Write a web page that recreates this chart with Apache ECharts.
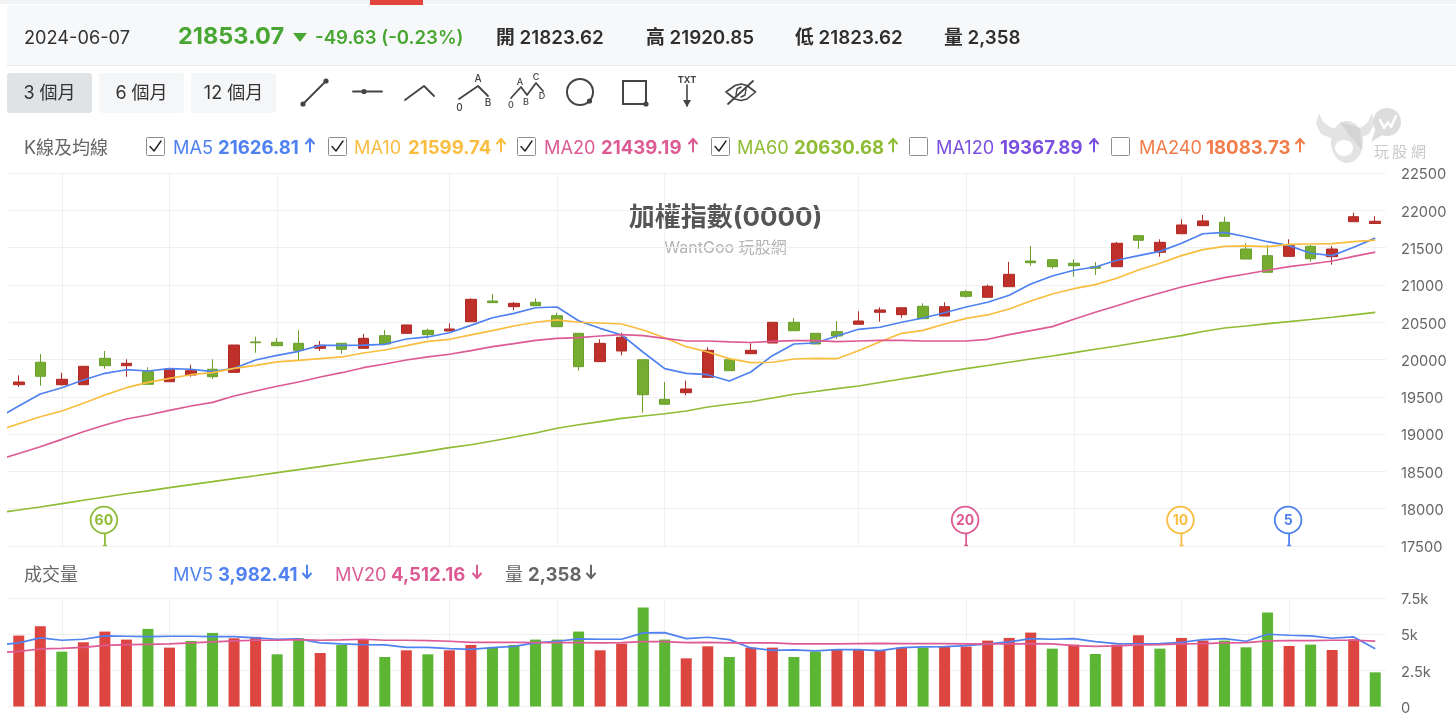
<!DOCTYPE html>
<html><head><meta charset="utf-8">
<style>html,body{margin:0;padding:0;background:#fff}#c{width:1456px;height:716px}</style>
<script src="https://cdn.jsdelivr.net/npm/echarts@6/dist/echarts.min.js"></script>
</head><body><div id="c"></div>
<script>
const categories=['2024-03-07','2024-03-08','2024-03-11','2024-03-12','2024-03-13','2024-03-14','2024-03-15','2024-03-18','2024-03-19','2024-03-20','2024-03-21','2024-03-22','2024-03-25','2024-03-26','2024-03-27','2024-03-28','2024-03-29','2024-04-01','2024-04-02','2024-04-03','2024-04-08','2024-04-09','2024-04-10','2024-04-11','2024-04-12','2024-04-15','2024-04-16','2024-04-17','2024-04-18','2024-04-19','2024-04-22','2024-04-23','2024-04-24','2024-04-25','2024-04-26','2024-04-29','2024-04-30','2024-05-02','2024-05-03','2024-05-06','2024-05-07','2024-05-08','2024-05-09','2024-05-10','2024-05-13','2024-05-14','2024-05-15','2024-05-16','2024-05-17','2024-05-20','2024-05-21','2024-05-22','2024-05-23','2024-05-24','2024-05-27','2024-05-28','2024-05-29','2024-05-30','2024-05-31','2024-06-03','2024-06-04','2024-06-05','2024-06-06','2024-06-07'];
const gridDates=['2024-03-11','2024-03-18','2024-03-25','2024-04-08','2024-04-15','2024-04-22','2024-05-06','2024-05-13','2024-05-20','2024-05-27','2024-06-03'];
// open, close, low, high
const ohlc=[[19662,19698,19635,19788],[19963,19775,19649,20074],[19662,19735,19649,19823],[19662,19909,19662,19909],[20016,19917,19877,20114],[19917,19949,19769,20003],[19837,19668,19668,19896],[19702,19873,19702,19873],[19792,19850,19769,19930],[19869,19769,19739,20003],[19828,20194,19828,20194],[20235,20225,20091,20306],[20231,20185,20185,20288],[20217,20123,19993,20391],[20150,20190,20114,20248],[20217,20137,20078,20217],[20150,20284,20150,20342],[20319,20208,20208,20395],[20351,20463,20351,20463],[20391,20333,20279,20413],[20382,20409,20382,20485],[20507,20807,20507,20820],[20784,20762,20762,20878],[20708,20753,20664,20771],[20767,20721,20721,20820],[20587,20440,20440,20627],[20351,19904,19850,20351],[19971,20217,19971,20271],[20114,20298,20056,20359],[19997,19528,19287,19997],[19466,19400,19400,19698],[19555,19605,19520,19716],[19761,20123,19761,20164],[19997,19850,19850,19997],[20078,20123,20078,20217],[20221,20499,20221,20499],[20499,20386,20386,20556],[20351,20208,20208,20351],[20373,20315,20279,20516],[20472,20516,20472,20646],[20633,20664,20507,20700],[20601,20694,20560,20694],[20713,20547,20547,20753],[20583,20708,20583,20767],[20909,20847,20828,20932],[20834,20981,20834,21003],[20976,21142,20976,21307],[21320,21298,21257,21522],[21338,21244,21217,21338],[21290,21257,21110,21343],[21244,21223,21133,21307],[21244,21558,21244,21575],[21660,21598,21485,21660],[21437,21571,21378,21611],[21686,21803,21686,21879],[21794,21857,21794,21937],[21839,21651,21651,21914],[21481,21347,21347,21558],[21392,21169,21169,21535],[21383,21526,21383,21611],[21517,21351,21311,21535],[21378,21481,21271,21522],[21847,21914,21847,21968],[21823.62,21853.07,21823.62,21920.85]];
// moving averages: the first value belongs to the session before the window
const ma5=[19212,19377,19538,19622,19725,19815,19863,19846,19877,19869,19837,19882,19993,20056,20110,20190,20190,20194,20204,20275,20302,20359,20458,20560,20619,20694,20704,20520,20418,20329,20097,19877,19815,19796,19712,19832,20051,20208,20221,20315,20405,20432,20499,20556,20627,20704,20767,20861,21012,21119,21196,21240,21330,21392,21450,21558,21686,21705,21646,21579,21526,21424,21392,21504,21626.81];
const ma10=[19042,19139,19233,19310,19413,19524,19622,19694,19748,19796,19823,19882,19922,19967,19989,20011,20034,20087,20127,20185,20244,20271,20329,20386,20449,20499,20530,20499,20489,20476,20395,20292,20172,20101,20011,19957,19963,20007,20016,20011,20118,20239,20351,20391,20476,20552,20597,20677,20784,20878,20949,21003,21089,21200,21290,21392,21472,21517,21522,21512,21544,21548,21552,21579,21599.74];
const ma20=[18653,18740,18831,18930,19032,19122,19202,19256,19319,19377,19426,19511,19578,19641,19698,19765,19823,19890,19940,19993,20034,20070,20118,20172,20212,20257,20284,20292,20315,20333,20319,20284,20248,20248,20235,20228,20244,20252,20252,20239,20248,20257,20257,20248,20248,20248,20271,20333,20386,20440,20539,20633,20721,20811,20891,20972,21035,21097,21146,21196,21244,21280,21320,21383,21439.19];
const ma60=[17942,17983,18023,18067,18113,18157,18200,18240,18282,18323,18363,18404,18442,18483,18524,18564,18606,18647,18686,18728,18771,18818,18857,18908,18961,19015,19078,19125,19168,19212,19243,19273,19310,19363,19400,19434,19484,19534,19571,19609,19645,19692,19739,19784,19832,19877,19920,19963,20007,20047,20091,20137,20181,20228,20275,20319,20375,20422,20449,20480,20507,20536,20566,20599,20630.68];
const volumes=[4897,5544,3788,4435,5174,4620,5359,4066,4528,5082,4712,4805,3604,4712,3696,4250,4620,3419,3881,3604,3881,4250,4066,4250,4620,4620,5174,3881,4343,6838,4620,3326,4158,3419,4066,4066,3419,3788,3973,3973,3881,4066,4066,4158,4135,4551,4736,5105,3996,4274,3627,4274,4920,3996,4736,4551,4551,4089,6491,4181,4274,3904,4643,2358];
const volumeUp=[1,1,0,1,1,1,0,1,0,0,1,1,0,0,1,0,1,0,1,0,1,1,0,0,0,0,0,1,1,0,0,1,1,0,1,1,0,0,1,1,1,1,0,1,1,1,1,1,0,1,0,1,1,0,1,1,0,0,0,1,0,1,1,0];
const mv5=[4227,4389,4735,4574,4643,4874,4851,4828,4851,4851,4828,4828,4735,4643,4666,4389,4320,4273,4250,4089,4089,3996,3950,4066,4158,4389,4505,4666,4643,4643,5082,5105,4689,4782,4620,4043,3881,3904,3835,3927,3927,3858,4066,4112,4135,4204,4320,4458,4689,4643,4689,4481,4343,4320,4343,4435,4620,4689,4505,4990,4920,4874,4712,4805,3982.41];
const mv20=[3696,3812,3973,4019,4089,4227,4273,4297,4320,4389,4458,4528,4574,4574,4620,4574,4597,4643,4574,4574,4551,4505,4435,4435,4435,4412,4412,4412,4389,4412,4481,4481,4412,4435,4389,4389,4389,4320,4320,4320,4343,4366,4343,4343,4343,4320,4320,4320,4343,4320,4204,4158,4181,4250,4273,4320,4343,4389,4412,4528,4551,4551,4574,4574,4512.16];
const crossBars=[4,44,54,59];
const crossLabels=['60','20','10','5'];
const priceTicks={min:17500,max:22500,step:500};
const volumeTicks={min:0,max:7500,step:2500};
const maLegend=[['MA5','21626.81','#4f81f0',146,173,218,310,true],['MA10','21599.74','#f9bd3f',328,354,408,501,true],['MA20','21439.19','#dd5b94',517,544,601,693,true],['MA60','20630.68','#8fbc35',711,737,794,893,true],['MA120','19367.89','#7a4fe0',909,936,1000,1094,false],['MA240','18083.73','#f27c4a',1111,1139,1206,1300,false]];

const FONT='Inter,"Noto Sans CJK TC",sans-serif';
const BLUE='#4f81f0',YEL='#f9bd3f',PINK='#dd5b94',GRN='#8fbc35';
const crossColors={'5':BLUE,'10':YEL,'20':PINK,'60':GRN};
const G=[];
const txt=(x,y,text,size,fill,weight,align)=>G.push({type:'text',silent:true,x,y,style:{text,x:0,y:0,fontSize:size,fill,fontWeight:weight||400,fontFamily:FONT,align:align||'left',verticalAlign:'middle'}});
const rect=(x,y,w,h,fill,r,stroke,lw)=>G.push({type:'rect',silent:true,shape:{x,y,width:w,height:h,r:r||0},style:{fill,stroke:stroke||null,lineWidth:lw||0}});
const poly=(pts,stroke,lw)=>G.push({type:'polyline',silent:true,shape:{points:pts},style:{stroke,lineWidth:lw||2,fill:null,lineJoin:'round',lineCap:'round'}});
const dot=(x,y,r,fill)=>G.push({type:'circle',silent:true,shape:{cx:x,cy:y,r},style:{fill}});
const arrow=(x,y,up,c)=>{const d=up?1:-1;poly([[x,y+6.5*d],[x,y-6*d]],c,2);poly([[x-4,y-1.5*d],[x,y-6*d],[x+4,y-1.5*d]],c,2);};

// top strip and header band
rect(0,0,1456,4,'#f1f2f4');rect(370,0,53,5,'#e2453c');
rect(7,5,1449,60,'#f7f8fa');rect(7,65,1449,1,'#ebebeb');
txt(24,38.5,'2024-06-07',18.2,'#333');
txt(178,37,'21853.07',23.5,'#48a632',700);
G.push({type:'polygon',silent:true,shape:{points:[[293,33],[307,33],[300,42]]},style:{fill:'#48a632'}});
txt(315,38.5,'-49.63 (-0.23%)',18.6,'#48a632',600);
[['開 21823.62',496],['高 21920.85',646],['低 21823.62',795],['量 2,358',944]].forEach(a=>txt(a[1],38.5,a[0],18.8,'#2e2e2e',600));
// range buttons
[[7,'3 個月','#dfe3e6'],[99,'6 個月','#f5f6f8'],[191,'12 個月','#f5f6f8']].forEach(b=>{rect(b[0],73,85,40,b[2],3);txt(b[0]+42.5,93.5,b[1],18,'#333',400,'center');});
// drawing tools
const IC='#444';
poly([[303,104],[326,81]],IC,1.8);dot(303,104,2.6,IC);dot(326,81,2.6,IC);
poly([[353,91.5],[382,91.5]],IC,1.8);dot(364,91.5,2.6,IC);
poly([[405,100],[424,86],[434,96]],IC,1.8);
poly([[459,99],[478,86],[488,96]],IC,1.8);
[[459.5,108,'0'],[478,79,'A'],[488,103,'B']].forEach(a=>txt(a[0],a[1],a[2],10,IC,500,'center'));
poly([[511,98],[521,87],[527,95],[536,83],[543,91]],IC,1.8);
[[511,105,'0'],[520,82,'A'],[526,102,'B'],[536,77,'C'],[542,96,'D']].forEach(a=>txt(a[0],a[1],a[2],9,IC,500,'center'));
G.push({type:'circle',silent:true,shape:{cx:580,cy:92,r:13},style:{fill:null,stroke:IC,lineWidth:2}});dot(589.5,101,2.6,IC);
rect(623,81,23,23,null,0,IC,2);dot(646,104,2.6,IC);
txt(687,80,'TXT',9,IC,700,'center');
poly([[687,85],[687,106]],IC,1.6);
G.push({type:'polygon',silent:true,shape:{points:[[683,100],[691,100],[687,107]]},style:{fill:IC}});
poly([[726,92],[735,85.5],[741,84],[747,85.5],[755.5,92],[747,99],[741,100.5],[735,99],[726,92]],IC,1.6);
poly([[736,95],[737,89],[741,87]],IC,1.4);
poly([[746,89],[745,95],[741,97]],IC,1.4);
poly([[728,104],[753,81]],IC,1.8);
// K-line legend
txt(24,148.5,'K線及均線',18,'#666');
maLegend.forEach(m=>{
  rect(m[3]+.5,137.5,18,18,'#fff',1,'#8f8f8f',1);
  if(m[7])poly([[m[3]+4,146.5],[m[3]+8,151],[m[3]+15,141]],'#222',1.4);
  txt(m[4],148.5,m[0],18.2,m[2]);
  txt(m[5],148.5,m[1],18.6,m[2],700);
  arrow(m[6],145,true,m[2]);
});
// watermark
const WM='#e3e3e3';
G.push({type:'polygon',silent:true,shape:{points:[[1319,113],[1316,124],[1321,134],[1333,139],[1343,131],[1330,127],[1323,122]]},style:{fill:WM}});
G.push({type:'polygon',silent:true,shape:{points:[[1372,113],[1374,124],[1369,134],[1358,139],[1347,131],[1362,127],[1368,122]]},style:{fill:WM}});
G.push({type:'ellipse',silent:true,shape:{cx:1347,cy:142,rx:16,ry:21},style:{fill:WM}});
G.push({type:'polygon',silent:true,shape:{points:[[1340,122],[1360,128],[1362,150],[1350,136]]},style:{fill:'#d4d4d4'}});
G.push({type:'ellipse',silent:true,shape:{cx:1344,cy:148,rx:9,ry:8},style:{fill:'#fff'}});
G.push({type:'circle',silent:true,shape:{cx:1387,cy:122,r:14},style:{fill:'#dcdcdc'}});
G.push({type:'polygon',silent:true,shape:{points:[[1376,128],[1371,142],[1384,134]]},style:{fill:'#dcdcdc'}});
poly([[1380,120],[1384,128],[1388,122],[1391,127],[1396,116]],'#fff',2.4);
[[1374,'玩'],[1392,'股'],[1411,'網']].forEach(a=>txt(a[0],152.5,a[1],15,'#c9c9c9'));
// titles
txt(725.5,218,'加權指數(0000)',26,'#555',700,'center');
txt(725.5,248,'WantGoo 玩股網',16,'#b3b3b3',400,'center');
// volume legend
txt(24,575.5,'成交量',18,'#666');
txt(173,575.5,'MV5',18.2,BLUE);txt(218,575.5,'3,982.41',18.6,BLUE,700);arrow(307,572,false,BLUE);
txt(335,575.5,'MV20',18.2,PINK);txt(391,575.5,'4,512.16',18.6,PINK,700);arrow(477,572,false,PINK);
txt(505,575.5,'量',18,'#666');txt(528,575.5,'2,358',18.6,'#666',700);arrow(591,572,false,'#666');

const RED='#c0302a',KGRN='#76ad31',VR='#dd4540',VG='#5cb634',GRID='#f0f0f0';
const withIndex=a=>a.map((v,k)=>[k-1,v]);
const line=(name,data,color,x,y)=>({name,type:'line',data:withIndex(data),xAxisIndex:x,yAxisIndex:y,showSymbol:false,silent:true,lineStyle:{color,width:1.7},itemStyle:{color},z:5,animation:false});
const catAxis=i=>({type:'category',gridIndex:i,data:categories,axisLine:{show:false},axisTick:{show:false},axisLabel:{show:false},
  splitLine:{show:true,alignWithLabel:true,interval:(idx,val)=>gridDates.includes(val),lineStyle:{color:GRID,width:1.2}}});
const valX=i=>({type:'value',gridIndex:i,min:-0.5,max:63.5,show:false,splitLine:{show:false}});
const yAx=(i,t,fmt)=>({type:'value',gridIndex:i,position:'right',min:t.min,max:t.max,interval:t.step,scale:true,axisLine:{show:false},axisTick:{show:false},
  axisLabel:{color:'#666',fontSize:14.6,fontFamily:FONT,margin:15,formatter:v=>'{t|'+fmt(v)+'}',rich:{t:{color:'#666',fontSize:14.6,fontFamily:FONT,padding:[4,0,0,0]}}},splitLine:{show:true,lineStyle:{color:GRID,width:1}}});

const chart=echarts.init(document.getElementById('c'),null,{renderer:'canvas'});
chart.setOption({
  animation:false,backgroundColor:'#fff',
  graphic:{elements:G},
  grid:[{left:8,top:173,width:1378,height:373},{left:8,top:597.9,width:1378,height:108.6}],
  xAxis:[catAxis(0),valX(0),catAxis(1),valX(1)],
  yAxis:[yAx(0,priceTicks,v=>String(v)),yAx(1,volumeTicks,v=>v===0?'0':(v/1000)+'k')],
  series:[
    {name:'K',type:'candlestick',data:ohlc,xAxisIndex:0,yAxisIndex:0,barWidth:11,silent:true,z:3,
     itemStyle:{color:RED,color0:KGRN,borderColor:'#ae2a25',borderColor0:'#699e2b',borderWidth:1}},
    line('MA5',ma5,BLUE,1,0),line('MA10',ma10,YEL,1,0),line('MA20',ma20,PINK,1,0),line('MA60',ma60,GRN,1,0),
    {name:'量',type:'bar',data:volumes.map((v,k)=>({value:v,itemStyle:{color:volumeUp[k]?VR:VG}})),xAxisIndex:2,yAxisIndex:1,barWidth:11,silent:true,z:3},
    line('MV5',mv5,BLUE,3,1),line('MV20',mv20,PINK,3,1),
    {name:'cross',type:'custom',xAxisIndex:0,yAxisIndex:0,silent:true,clip:false,z:6,
     data:crossBars.map((b,k)=>[b,priceTicks.min,crossLabels[k]]),
     renderItem:(p,api)=>{
       const c=api.coord([api.value(0),api.value(1)]);const lab=crossLabels[p.dataIndex];const col=crossColors[lab];
       const cy=c[1]-26;
       return {type:'group',children:[
         {type:'line',shape:{x1:c[0],y1:cy+13,x2:c[0],y2:c[1]-1},style:{stroke:col,lineWidth:1.8}},
         {type:'line',shape:{x1:c[0]-2,y1:c[1]-.5,x2:c[0]+2,y2:c[1]-.5},style:{stroke:col,lineWidth:1.4}},
         {type:'circle',shape:{cx:c[0]-1,cy,r:13.3},style:{fill:'#fff',stroke:col,lineWidth:1.8}},
         {type:'text',x:c[0]-1,y:cy+.5,style:{text:lab,fill:col,fontSize:14,fontWeight:700,fontFamily:FONT,align:'center',verticalAlign:'middle'}}
       ]};
     }},
  ]
});
</script></body></html>
